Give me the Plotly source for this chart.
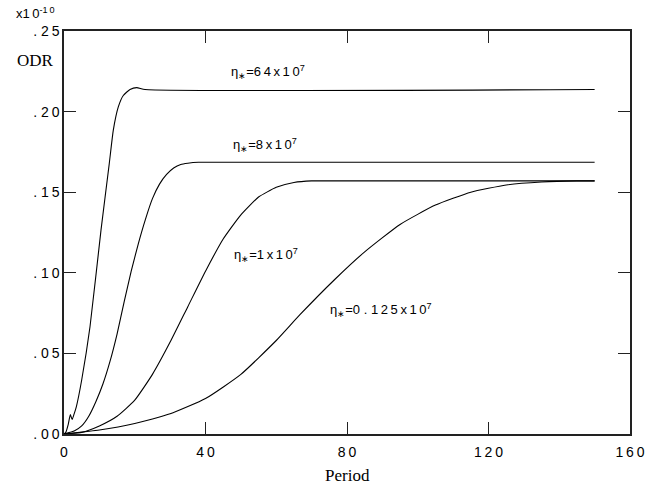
import plotly.graph_objects as go

# Overdamped response (ODR, units of 1e-10) versus period for four viscosities
t_64 = [0, 0.5, 1.2, 1.8, 2.3, 2.8, 3.5, 5.0, 7.35, 10.46, 12.8, 13.94, 15.35, 16.76, 18.66, 20.55, 22.9, 150]
v_64 = [0, 0.001, 0.006, 0.012, 0.009, 0.012, 0.017, 0.0335, 0.0665, 0.1265, 0.1678, 0.1885, 0.2029, 0.210, 0.2137, 0.2149, 0.2137, 0.2137]

t_8 = [0, 3, 5, 7, 9, 11, 13, 15, 17, 19, 21, 23, 25, 27, 29, 31, 33, 35, 38, 150]
v_8 = [0, 0.002, 0.005, 0.011, 0.020, 0.031, 0.045, 0.062, 0.082, 0.101, 0.118, 0.133, 0.146, 0.155, 0.161, 0.165, 0.1672, 0.168, 0.1686, 0.1686]

t_1 = [0, 5, 10, 15, 20, 25, 30, 35, 40, 45, 50, 55, 60, 65, 70, 75, 150]
v_1 = [0, 0.001, 0.005, 0.011, 0.021, 0.037, 0.057, 0.079, 0.101, 0.121, 0.136, 0.147, 0.153, 0.156, 0.157, 0.157, 0.157]

t_0125 = [0, 10, 20, 30, 40, 50, 60, 66.7, 76.6, 85, 95, 105, 115, 125, 135, 145, 150]
v_0125 = [0, 0.0025, 0.0065, 0.0125, 0.022, 0.037, 0.058, 0.074, 0.096, 0.113, 0.130, 0.142, 0.150, 0.1545, 0.1563, 0.157, 0.157]

TS = "\u2009"  # thin space used for the spaced-out lettering

x_ticks = [0, 40, 80, 120, 160]
x_labels = ["0", "4" + TS + "0", "8" + TS + "0", "1" + TS + "2" + TS + "0", "1" + TS + "6" + TS + "0"]
y_ticks = [0, 0.05, 0.10, 0.15, 0.20, 0.25]
y_labels = [". 0" + TS + "0", ". 0" + TS + "5", ". 1" + TS + "0", ". 1" + TS + "5", ". 2" + TS + "0", ". 2" + TS + "5"]

curve_labels = [
    (57.7, 0.2244, "η<sub>∗</sub>=6" + TS + "4" + TS + "x" + TS + "1" + TS + "0<sup>7</sup>"),
    (56.8, 0.179, "η<sub>∗</sub>=8" + TS + "x" + TS + "1" + TS + "0<sup>7</sup>"),
    (57.1, 0.111, "η<sub>∗</sub>=1" + TS + "x" + TS + "1" + TS + "0<sup>7</sup>"),
    (89.6, 0.0769, "η<sub>∗</sub>=0 . 1" + TS + "2" + TS + "5" + TS + "x" + TS + "1" + TS + "0<sup>7</sup>"),
]

fig = go.Figure()
for tt, vv in [(t_64, v_64), (t_8, v_8), (t_1, v_1), (t_0125, v_0125)]:
    fig.add_trace(go.Scatter(x=tt, y=vv, mode="lines",
                             line=dict(color="black", width=1.1, shape="spline", smoothing=0.5),
                             showlegend=False, hoverinfo="skip"))

for x, y, txt in curve_labels:
    fig.add_annotation(x=x, y=y, text=txt, showarrow=False,
                       font=dict(family="Liberation Sans, Arial", size=13, color="black"))

fig.add_annotation(xref="paper", yref="paper", x=-0.015, y=0.955, text="ODR",
                   showarrow=False, xanchor="right",
                   font=dict(family="Liberation Serif, Times New Roman", size=17, color="black"))
fig.add_annotation(xref="paper", yref="paper", x=-0.012, y=1.02, text="x1" + TS + "0<sup>-1" + TS + "0</sup>",
                   showarrow=False, xanchor="right", yanchor="bottom",
                   font=dict(family="Liberation Sans, Arial", size=13, color="black"))
fig.add_annotation(xref="paper", yref="paper", x=0.5, y=0, yshift=-41, text="Period",
                   showarrow=False, yanchor="middle",
                   font=dict(family="Liberation Serif, Times New Roman", size=17, color="black"))

axis_common = dict(showgrid=False, zeroline=False, showline=True, linecolor="#222",
                   linewidth=1.5, mirror="ticks", ticks="inside", ticklen=12,
                   tickcolor="#222", tickwidth=1.3, automargin=False,
                   tickfont=dict(family="Liberation Sans, Arial", size=14, color="black"))

fig.update_xaxes(range=[0, 160], tickvals=x_ticks, ticktext=x_labels, ticklabelstandoff=4,
                 **axis_common)
fig.update_yaxes(range=[0, 0.25], tickvals=y_ticks, ticktext=y_labels, **axis_common)

fig.update_layout(width=647, height=487, margin=dict(l=64, r=17, t=31, b=53),
                  plot_bgcolor="white", paper_bgcolor="white")

fig.write_html("out.html")
